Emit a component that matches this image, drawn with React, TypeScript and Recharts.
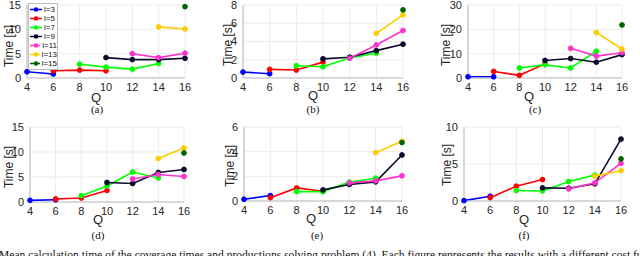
import { LineChart, Line, XAxis, YAxis, CartesianGrid, Legend } from 'recharts';

const Q_VALUES = [4, 6, 8, 10, 12, 14, 16];
const SERIES_NAMES = ['l=3', 'l=5', 'l=7', 'l=9', 'l=11', 'l=13', 'l=15'];
const SERIES_COLORS = ['#0000ff', '#ff0000', '#00ff00', '#0b0b2e', '#ff33cc', '#ffcc00', '#006400'];
const _ = null;

// mean calculation time [s], one row per series, one column per Q
const TIMES_A = [
  [1.28, 0.81, _, _, _, _, _],
  [_, 1.49, 1.62, 1.49, _, _, _],
  [_, _, 2.84, 2.23, 1.82, 2.97, _],
  [_, _, _, 4.19, 3.78, 3.78, 4.05],
  [_, _, _, _, 5.0, 4.19, 5.1],
  [_, _, _, _, _, 10.5, 10.07],
  [_, _, _, _, _, _, 14.66],
];
const TIMES_B = [
  [0.65, 0.47, _, _, _, _, _],
  [_, 0.94, 0.87, 1.74, _, _, _],
  [_, _, 1.34, 1.23, 2.2, 2.72, _],
  [_, _, _, 2.1, 2.28, 3.0, 3.7],
  [_, _, _, _, 2.17, 3.62, 5.2],
  [_, _, _, _, _, 4.9, 6.92],
  [_, _, _, _, _, _, 7.46],
];
const TIMES_C = [
  [0.5, 0.5, _, _, _, _, _],
  [_, 2.7, 1.1, 5.8, _, _, _],
  [_, _, 4.1, 5.4, 4.1, 11.0, _],
  [_, _, _, 7.2, 8.0, 6.5, 9.6],
  [_, _, _, _, 12.2, 9.0, 10.4],
  [_, _, _, _, _, 18.7, 11.9],
  [_, _, _, _, _, _, 21.8],
];
const TIMES_D = [
  [0.33, 0.45, _, _, _, _, _],
  [_, 0.6, 0.8, 2.3, _, _, _],
  [_, _, 1.27, 3.2, 6.0, 4.8, _],
  [_, _, _, 3.9, 3.7, 5.9, 6.5],
  [_, _, _, _, 4.6, 5.5, 5.1],
  [_, _, _, _, _, 8.7, 10.8],
  [_, _, _, _, _, _, 9.8],
];
const TIMES_E = [
  [0.14, 0.44, _, _, _, _, _],
  [_, 0.27, 1.06, 0.79, _, _, _],
  [_, _, 0.76, 0.76, 1.53, 1.85, _],
  [_, _, _, 0.9, 1.34, 1.55, 3.73],
  [_, _, _, _, 1.47, 1.63, 2.04],
  [_, _, _, _, _, 3.92, 4.85],
  [_, _, _, _, _, _, 4.74],
];
const TIMES_F = [
  [0.05, 0.64, _, _, _, _, _],
  [_, 0.45, 2.0, 2.9, _, _, _],
  [_, _, 1.41, 1.36, 2.64, 3.5, _],
  [_, _, _, 1.77, 1.73, 2.32, 8.36],
  [_, _, _, _, 1.64, 2.45, 5.1],
  [_, _, _, _, _, 3.36, 4.1],
  [_, _, _, _, _, _, 5.68],
];

const Y_TICKS_A = [0, 5, 10, 15];
const Y_TICKS_B = [0, 2, 4, 6, 8];
const Y_TICKS_C = [0, 10, 20, 30];
const Y_TICKS_D = [0, 5, 10, 15];
const Y_TICKS_E = [0, 2, 4, 6];
const Y_TICKS_F = [0, 5, 10];

const CAPTION = 'Mean calculation time of the coverage times and productions solving problem (4). Each figure represents the results with a different cost function';

const SANS = '"Liberation Sans", Arial, Helvetica, sans-serif';
const SERIF = '"Liberation Serif", "Times New Roman", serif';
const FRAME = '#bcbcbc';
const GRID = '#ebebeb';
const TEXT = '#262626';

type PanelSpec = {
  tag: string;
  times: (number | null)[][];
  yTicks: number[];
  left: number; top: number; right: number; bottom: number;
  timeX: number; timeY: number;
  qX: number; qY: number;
  capX: number; capY: number;
  legend?: boolean;
};

const PANELS: PanelSpec[] = [
  { tag: '(a)', times: TIMES_A, yTicks: Y_TICKS_A, left: 27, top: 5, right: 185, bottom: 78, timeX: 9, timeY: 46, qX: 96, qY: 97, capX: 97, capY: 109, legend: true },
  { tag: '(b)', times: TIMES_B, yTicks: Y_TICKS_B, left: 243, top: 5, right: 403, bottom: 78, timeX: 228, timeY: 45, qX: 313, qY: 95, capX: 313, capY: 109 },
  { tag: '(c)', times: TIMES_C, yTicks: Y_TICKS_C, left: 468, top: 5, right: 622, bottom: 78, timeX: 446, timeY: 45, qX: 529, qY: 96, capX: 535, capY: 109 },
  { tag: '(d)', times: TIMES_D, yTicks: Y_TICKS_D, left: 30, top: 127, right: 184, bottom: 202, timeX: 9, timeY: 167, qX: 98, qY: 219, capX: 98, capY: 235 },
  { tag: '(e)', times: TIMES_E, yTicks: Y_TICKS_E, left: 244, top: 127, right: 402, bottom: 201, timeX: 230, timeY: 166, qX: 311, qY: 218, capX: 317, capY: 235 },
  { tag: '(f)', times: TIMES_F, yTicks: Y_TICKS_F, left: 464, top: 127, right: 621, bottom: 201, timeX: 447, timeY: 165, qX: 524, qY: 219, capX: 524, capY: 235 },
];

const renderLegend = (props: any) => {
  const items = [...(props.payload || [])].sort(
    (a: any, b: any) => SERIES_NAMES.indexOf(a.value) - SERIES_NAMES.indexOf(b.value)
  );
  return (
    <div style={{ background: '#fff', border: `1px solid ${FRAME}`, padding: '1px 0 1px 1px', width: 27 }}>
      {items.map((e: any) => (
        <div key={e.value} style={{ display: 'flex', alignItems: 'center', height: 9 }}>
          <svg width={12} height={9} style={{ display: 'block' }}>
            <line x1={0} y1={4.5} x2={12} y2={4.5} stroke={e.color} strokeWidth={1.5} />
            <circle cx={6} cy={4.5} r={2.3} fill={e.color} />
          </svg>
          <span style={{ fontSize: 8, lineHeight: '9px', marginLeft: 2, fontFamily: SANS, color: '#111' }}>{e.value}</span>
        </div>
      ))}
    </div>
  );
};

function Panel({ p }: { p: PanelSpec }) {
  const chartLeft = p.timeX - 9;
  const chartTop = p.top - 5;
  const yW = p.left - chartLeft;
  const width = yW + (p.right - p.left) + 12;
  const height = 5 + (p.bottom - p.top) + 28;
  const yMax = p.yTicks[p.yTicks.length - 1];
  const rows = Q_VALUES.map((q, qi) => {
    const row: Record<string, number | null> = { Q: q };
    SERIES_NAMES.forEach((_n, si) => {
      row['s' + si] = p.times[si][qi];
    });
    return row;
  });

  const timeLabel = () => {
    const cx = p.timeX - chartLeft;
    const cy = p.timeY - chartTop;
    return (
      <text x={cx} y={cy} transform={`rotate(-90 ${cx} ${cy})`} textAnchor="middle" dominantBaseline="central"
        fontSize={12} fontFamily={SANS} fill={TEXT}>Time [s]</text>
    );
  };
  const qLabel = () => (
    <text x={p.qX - chartLeft} y={p.qY - chartTop} textAnchor="middle" dominantBaseline="central"
      fontSize={13} fontFamily={SANS} fill={TEXT}>Q</text>
  );

  return (
    <>
      <div style={{ position: 'absolute', left: chartLeft, top: chartTop }}>
        <LineChart width={width} height={height} data={rows} margin={{ top: 5, right: 12, bottom: 0, left: 0 }}>
          <CartesianGrid stroke={GRID} strokeWidth={1} />
          <XAxis type="number" dataKey="Q" domain={[4, 16]} ticks={Q_VALUES} interval={0} height={28}
            tickLine={false} tickSize={4} tickMargin={1} axisLine={{ stroke: FRAME }}
            tick={{ fontSize: 11, fill: TEXT, fontFamily: SANS }} label={{ content: qLabel }} />
          <XAxis xAxisId="top" orientation="top" type="number" dataKey="Q" domain={[4, 16]} height={0}
            tick={false} tickLine={false} axisLine={{ stroke: FRAME }} />
          <YAxis type="number" domain={[0, yMax]} ticks={p.yTicks} interval={0} width={yW}
            tickLine={false} tickSize={4} tickMargin={2} axisLine={{ stroke: FRAME }}
            tick={{ fontSize: 11, fill: TEXT, fontFamily: SANS }} label={{ content: timeLabel }} />
          <YAxis yAxisId="right" orientation="right" type="number" domain={[0, yMax]} width={0}
            tick={false} tickLine={false} axisLine={{ stroke: FRAME }} />
          {SERIES_NAMES.map((name, si) => (
            <Line key={name} dataKey={'s' + si} name={name} stroke={SERIES_COLORS[si]} strokeWidth={1.6}
              dot={{ r: 2.4, fill: SERIES_COLORS[si], stroke: SERIES_COLORS[si], strokeWidth: 1 }}
              activeDot={false} connectNulls={false} isAnimationActive={false} />
          ))}
          {p.legend && (
            <Legend layout="vertical" align="center" verticalAlign="middle" content={renderLegend}
              wrapperStyle={{ left: 28 - chartLeft, top: 3 - chartTop, width: 30, height: 66 }} />
          )}
        </LineChart>
      </div>
      <div style={{ position: 'absolute', left: p.capX - 20, top: p.capY - 7, width: 40, textAlign: 'center',
        fontFamily: SERIF, fontSize: 11, lineHeight: '14px', color: '#111' }}>{p.tag}</div>
    </>
  );
}

export default function App() {
  return (
    <div style={{ position: 'absolute', left: 0, top: 0, width: 640, height: 256, overflow: 'hidden', background: '#fff' }}>
      {PANELS.map((p) => <Panel key={p.tag} p={p} />)}
      <div style={{ position: 'absolute', left: -1, top: 250, whiteSpace: 'nowrap', fontFamily: SERIF,
        fontSize: 11.55, lineHeight: '11px', color: '#111' }}>{CAPTION}</div>
    </div>
  );
}
